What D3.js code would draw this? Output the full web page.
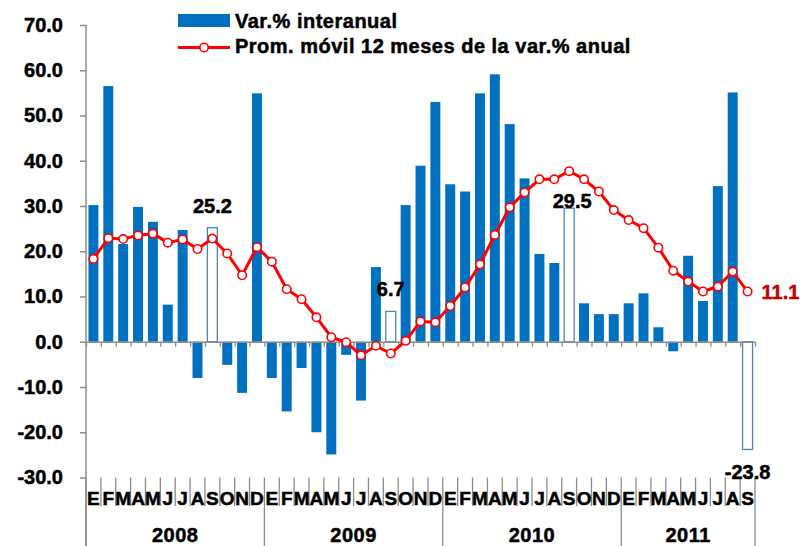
<!DOCTYPE html>
<html>
<head>
<meta charset="utf-8">
<script src="https://cdn.jsdelivr.net/npm/d3@7"></script>
<style>
    body { margin: 0; background: #fff; }
    text { font-family: "Liberation Sans", Arial, sans-serif; font-weight: bold; stroke: currentColor; stroke-width: 0.5px; }
</style>
</head>
<body>
<svg id="canvas" width="800" height="546"></svg>
<script>
// categories
const months = ['E','F','M','A','M','J','J','A','S','O','N','D'];
const years = ['2008','2009','2010','2011'];

// Var.% interanual, one value per month from E-2008 to S-2011
const varInteranual = [
    30.2, 56.5, 21.6, 29.8, 26.5, 8.2, 24.7, -8.0, 25.2, -5.1, -11.3, 54.9,
    -8.0, -15.4, -5.8, -20.0, -24.9, -2.9, -13.0, 16.5, 6.7, 30.2, 38.9, 53.0,
    34.8, 33.2, 54.9, 59.1, 48.1, 36.1, 19.4, 17.4, 29.5, 8.5, 6.1, 6.1,
    8.5, 10.7, 3.2, -2.1, 19.0, 9.0, 34.4, 55.1, -23.8
];

// Prom. móvil 12 meses de la var.% anual
const promMovil = [
    18.3, 22.9, 22.7, 23.5, 23.9, 21.9, 22.6, 20.5, 22.8, 19.5, 14.7, 20.9,
    17.7, 11.6, 9.4, 5.4, 1.0, -0.1, -3.0, -0.9, -2.6, 0.2, 4.5, 4.3,
    7.9, 12.0, 17.1, 23.6, 29.7, 33.0, 35.9, 35.9, 37.7, 35.9, 33.2, 29.1,
    26.9, 25.1, 20.8, 15.7, 13.3, 11.1, 12.2, 15.5, 11.1
];

// months drawn hollow and labelled (every September)
const hollowMonths = [8, 20, 32, 44];

const yTicks = [-30, -20, -10, 0, 10, 20, 30, 40, 50, 60, 70];

const legendLabels = ['Var.% interanual', 'Prom. móvil 12 meses de la var.% anual'];

// ---------------------------------------------------------------
const svg = d3.select('#canvas');
const n = varInteranual.length;
const idx = d3.range(n);

const x0 = 86, x1 = 755;
const xScale = d3.scaleBand()
    .domain(idx)
    .range([x0, x1])
    .paddingInner(0.33)
    .paddingOuter(0.165);
const xb = d3.scaleLinear().domain([0, n]).range([x0, x1]);   // category boundaries

const yScale = d3.scaleLinear()
    .domain([-30, 70])
    .range([477.5, 25]);

const axisColor = '#8c8c8c';
const blue = '#0070c0';
const red = '#ff0000';

// bars
svg.append('g').selectAll('rect')
    .data(idx)
    .enter().append('rect')
    .attr('x', d => xScale(d))
    .attr('width', xScale.bandwidth())
    .attr('y', d => yScale(Math.max(0, varInteranual[d])))
    .attr('height', d => Math.abs(yScale(varInteranual[d]) - yScale(0)))
    .attr('fill', d => hollowMonths.includes(d) ? '#fff' : blue)
    .attr('stroke', d => hollowMonths.includes(d) ? '#4f81bd' : 'none')
    .attr('stroke-width', 1.3);

// y axis
const yAxis = svg.append('g')
    .attr('transform', `translate(${x0},0)`)
    .call(d3.axisLeft(yScale)
        .tickValues(yTicks)
        .tickSize(6)
        .tickPadding(17)
        .tickFormat(d => d.toFixed(1)));
yAxis.select('.domain').remove();
yAxis.selectAll('line').attr('stroke', axisColor).attr('stroke-width', 1.5);
yAxis.selectAll('text')
    .attr('font-size', 20)
    .attr('fill', '#000')
    .style('font-family', '"Liberation Sans", Arial, sans-serif');
svg.append('line')
    .attr('x1', x0).attr('x2', x0)
    .attr('y1', yScale(70)).attr('y2', 546)
    .attr('stroke', axisColor).attr('stroke-width', 1.5);

// category axis at zero
const xAxis = svg.append('g')
    .attr('transform', `translate(0,${yScale(0)})`)
    .call(d3.axisBottom(xb)
        .tickValues(d3.range(n + 1))
        .tickSize(5)
        .tickSizeOuter(0)
        .tickFormat(''));
xAxis.select('.domain').attr('stroke', axisColor).attr('stroke-width', 1.5);
xAxis.selectAll('line').attr('stroke', axisColor).attr('stroke-width', 1.3);

// label area separators
const labTop = yScale(-30);
svg.append('g').selectAll('line')
    .data(d3.range(n + 1))
    .enter().append('line')
    .attr('x1', d => xb(d)).attr('x2', d => xb(d))
    .attr('y1', labTop)
    .attr('y2', d => (d % 12 === 0 || d === n) ? 546 : 506)
    .attr('stroke', axisColor)
    .attr('stroke-width', 1.3);

// month labels
svg.append('g').selectAll('text')
    .data(idx)
    .enter().append('text')
    .attr('x', d => xScale(d) + xScale.bandwidth() / 2)
    .attr('y', 505)
    .attr('text-anchor', 'middle')
    .attr('font-size', 19)
    .text(d => months[d % 12]);

// year labels
svg.append('g').selectAll('text')
    .data(years)
    .enter().append('text')
    .attr('x', (d, i) => (xb(i * 12) + xb(Math.min(n, i * 12 + 12))) / 2)
    .attr('y', 542)
    .attr('text-anchor', 'middle')
    .attr('font-size', 20)
    .attr('letter-spacing', 0.5)
    .text(d => d);

// moving average line
const line = d3.line()
    .x(d => xScale(d) + xScale.bandwidth() / 2)
    .y(d => yScale(promMovil[d]));
svg.append('path')
    .datum(idx)
    .attr('d', line)
    .attr('fill', 'none')
    .attr('stroke', red)
    .attr('stroke-width', 3)
    .attr('stroke-linejoin', 'round');
svg.append('g').selectAll('circle')
    .data(idx)
    .enter().append('circle')
    .attr('cx', d => xScale(d) + xScale.bandwidth() / 2)
    .attr('cy', d => yScale(promMovil[d]))
    .attr('r', 4.2)
    .attr('fill', '#fff')
    .attr('stroke', red)
    .attr('stroke-width', 1.6);

// data labels for hollow bars
const labelDy = { 8: -15, 20: -15, 32: 0, 44: 30 };
const labelDx = { 8: 0, 20: 0, 32: 3, 44: 0 };
svg.append('g').selectAll('text')
    .data(hollowMonths)
    .enter().append('text')
    .attr('x', d => xScale(d) + xScale.bandwidth() / 2 + labelDx[d])
    .attr('y', d => yScale(varInteranual[d]) + labelDy[d])
    .attr('text-anchor', 'middle')
    .attr('font-size', 20)
    .text(d => varInteranual[d].toFixed(1));

// last moving average value
svg.append('text')
    .attr('x', xScale(n - 1) + xScale.bandwidth() / 2 + 14)
    .attr('y', yScale(promMovil[n - 1]) + 7)
    .attr('font-size', 20)
    .attr('fill', '#c00000')
    .style('color', '#c00000')
    .text(promMovil[n - 1].toFixed(1));

// legend
const lg = svg.append('g');
lg.append('rect')
    .attr('x', 178).attr('y', 14)
    .attr('width', 52).attr('height', 13)
    .attr('fill', blue);
lg.append('line')
    .attr('x1', 178).attr('x2', 230)
    .attr('y1', 47.5).attr('y2', 47.5)
    .attr('stroke', red).attr('stroke-width', 3);
lg.append('circle')
    .attr('cx', 204).attr('cy', 47.5).attr('r', 4.2)
    .attr('fill', '#fff').attr('stroke', red).attr('stroke-width', 1.6);
lg.selectAll('text')
    .data(legendLabels)
    .enter().append('text')
    .attr('x', 235)
    .attr('y', (d, i) => 28 + i * 25)
    .attr('font-size', 20)
    .attr('letter-spacing', 0.5)
    .text(d => d);
</script>
</body>
</html>
